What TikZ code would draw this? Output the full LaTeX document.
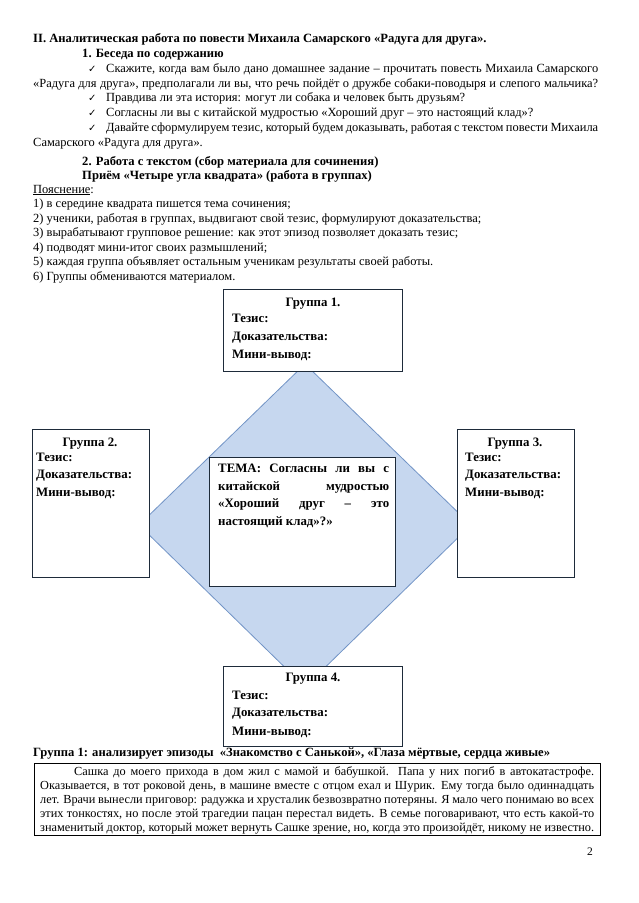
\documentclass[tikz,border=0pt]{standalone}
\usepackage{fontspec}
\setmainfont{Liberation Serif}
\newfontfamily\dejavu{DejaVu Sans}
\definecolor{diamfill}{HTML}{C6D7EF}
\definecolor{diamline}{HTML}{7294C6}
\definecolor{boxline}{HTML}{1E2B3A}
\newcommand{\chk}{{\dejavu\fontsize{10}{10}\selectfont ✓}}
\newcommand{\chkbox}{\makebox[18pt][l]{\chk}}
\newcommand{\jline}[2]{\makebox[#1][s]{#2}}
\begin{document}
\begin{tikzpicture}[x=1pt,y=-1pt,
  txt/.style={anchor=base west, inner sep=0pt, font=\fontsize{12.45}{14.7}\selectfont},
  stxt/.style={anchor=base west, inner sep=0pt, font=\fontsize{12.3}{14.2}\selectfont},
  btxt/.style={anchor=base west, inner sep=0pt, font=\fontsize{12.6}{14.7}\selectfont\bfseries},
  gtxt/.style={anchor=base west, inner sep=0pt, font=\fontsize{12.86}{14.7}\selectfont\bfseries},
  ctitle/.style={anchor=base, inner sep=0pt, font=\fontsize{12.86}{14.7}\selectfont\bfseries},
  gbox/.style={draw=boxline, fill=white, line width=0.9pt, inner sep=0pt},
  diam/.style={fill=diamfill, draw=diamline, line width=0.8pt}
]
\useasboundingbox (0,0) rectangle (638,903);
\fill[white] (0,0) rectangle (638,903);

% ---- top text ----
\node[btxt] (h1) at (33,42) {II. Аналитическая работа по повести Михаила Самарского «Радуга для друга».};
\node[btxt] (h2) at (82,57) {1. Беседа по содержанию};
\node[txt] (p1a) at (33,72) {\jline{565pt}{\hspace*{55pt}\chkbox Скажите, когда вам было дано домашнее задание – прочитать повесть Михаила Самарского}};
\node[txt] (p1b) at (33,87) {\jline{565pt}{«Радуга для друга», предполагали ли вы, что речь пойдёт о дружбе собаки-поводыря и слепого мальчика?}};
\node[txt] (p2) at (88,101) {\chkbox Правдива ли эта история: могут ли собака и человек быть друзьям?};
\node[txt] (p3) at (88,116) {\chkbox Согласны ли вы с китайской мудростью «Хороший друг – это настоящий клад»?};
\node[txt] (p4a) at (33,131) {\jline{565pt}{\hspace*{55pt}\chkbox Давайте сформулируем тезис, который будем доказывать, работая с текстом повести Михаила}};
\node[txt] (p4b) at (33,146) {Самарского «Радуга для друга».};
\node[btxt] (h3) at (82,165) {2. Работа с текстом (сбор материала для сочинения)};
\node[btxt] (h4) at (82,179) {Приём «Четыре угла квадрата» (работа в группах)};
\node[txt] (q0) at (33,193) {\underline{Пояснение}:};
\node[txt] (q1) at (33,207) {1) в середине квадрата пишется тема сочинения;};
\node[txt] (q2) at (33,222) {2) ученики, работая в группах, выдвигают свой тезис, формулируют доказательства;};
\node[txt] (q3) at (33,236) {3) вырабатывают групповое решение: как этот эпизод позволяет доказать тезис;};
\node[txt] (q4) at (33,251) {4) подводят мини-итог своих размышлений;};
\node[txt] (q5) at (33,265) {5) каждая группа объявляет остальным ученикам результаты своей работы.};
\node[txt] (q6) at (33,280) {6) Группы обмениваются материалом.};

% ---- diamond ----
\coordinate (dT) at (305,364);
\coordinate (dR) at (471,525);
\coordinate (dB) at (305,687);
\coordinate (dL) at (139,525);
\draw[diam] (dT) -- (dR) -- (dB) -- (dL) -- cycle;

% ---- boxes ----
\node[gbox, minimum width=179pt, minimum height=82pt] (g1) at (312.5,330) {};
\node[gbox, minimum width=117pt, minimum height=148pt] (g2) at (90.5,503) {};
\node[gbox, minimum width=117pt, minimum height=148pt] (g3) at (515.5,503) {};
\node[gbox, minimum width=179pt, minimum height=80pt] (g4) at (312.5,706) {};
\node[gbox, minimum width=186pt, minimum height=129pt] (tc) at (302,521.5) {};

% group 1
\node[ctitle] (g1t) at (313,306.5) {Группа 1.};
\node[gtxt] (g1a) at (232,322.5) {Тезис:};
\node[gtxt] (g1b) at (232,340.5) {Доказательства:};
\node[gtxt] (g1c) at (232,358.5) {Мини-вывод:};
% group 2
\node[ctitle] (g2t) at (90,446.5) {Группа 2.};
\node[gtxt] (g2a) at (36,461.5) {Тезис:};
\node[gtxt] (g2b) at (36,478.5) {Доказательства:};
\node[gtxt] (g2c) at (36,496.5) {Мини-вывод:};
% group 3
\node[ctitle] (g3t) at (515,446.5) {Группа 3.};
\node[gtxt] (g3a) at (465,461.5) {Тезис:};
\node[gtxt] (g3b) at (465,478.5) {Доказательства:};
\node[gtxt] (g3c) at (465,496.5) {Мини-вывод:};
% group 4
\node[ctitle] (g4t) at (313,681.5) {Группа 4.};
\node[gtxt] (g4a) at (232,699.5) {Тезис:};
\node[gtxt] (g4b) at (232,716.5) {Доказательства:};
\node[gtxt] (g4c) at (232,735.5) {Мини-вывод:};
% theme
\node[gtxt, text width=171pt, align=justify, font=\fontsize{12.86}{17.7}\selectfont\bfseries] (tct) at (218,472.5)
 {ТЕМА: Согласны ли вы с\linebreak китайской мудростью\linebreak «Хороший друг – это\linebreak настоящий клад»?»};

% ---- bottom ----
\node[btxt] (h5) at (33,756) {Группа 1: анализирует эпизоды \ «Знакомство с Санькой», «Глаза мёртвые, сердца живые»};
\node[draw=black, line width=0.9pt, inner sep=0pt, minimum width=566pt, minimum height=72pt] (bx) at (317,799) {};
\node[stxt] (b1) at (40,775.5) {\jline{554pt}{\hspace*{34pt}Сашка до моего прихода в дом жил с мамой и бабушкой. Папа у них погиб в автокатастрофе.}};
\node[stxt] (b2) at (40,789.5) {\jline{554pt}{Оказывается, в тот роковой день, в машине вместе с отцом ехал и Шурик. Ему тогда было одиннадцать}};
\node[stxt] (b3) at (40,803.5) {\jline{554pt}{лет. Врачи вынесли приговор: радужка и хрусталик безвозвратно потеряны. Я мало чего понимаю во всех}};
\node[stxt] (b4) at (40,817.5) {\jline{554pt}{этих тонкостях, но после этой трагедии пацан перестал видеть. В семье поговаривают, что есть какой-то}};
\node[stxt] (b5) at (40,831.5) {\jline{554pt}{знаменитый доктор, который может вернуть Сашке зрение, но, когда это произойдёт, никому не известно.}};
\node[txt, font=\fontsize{11.5}{12}\selectfont] (pn) at (587,855) {2};
\end{tikzpicture}
\end{document}
